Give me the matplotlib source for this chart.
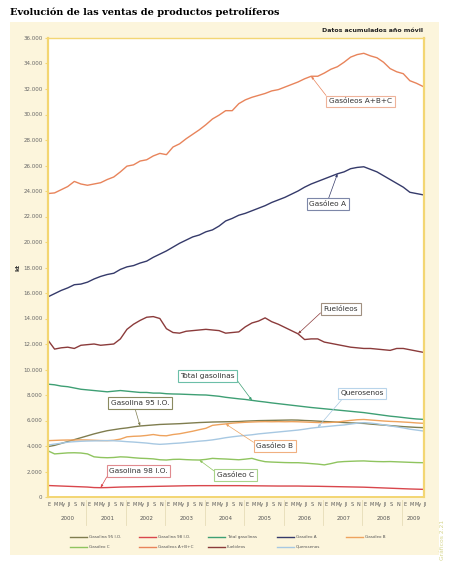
import numpy as np
import matplotlib.pyplot as plt
from matplotlib.lines import Line2D
from matplotlib.patches import Rectangle
from matplotlib.ticker import FuncFormatter, MultipleLocator

# meses desde enero 2000 (0) hasta julio 2009 (114), un valor cada dos meses
meses = np.arange(0, 115, 2)

# kt, datos acumulados año móvil
gasoleos_abc = [23800, 23850, 24100, 24350, 24750, 24550,
                24450, 24550, 24650, 24900, 25100, 25500,
                25950, 26050, 26350, 26450, 26750, 26950,
                26850, 27450, 27700, 28100, 28450, 28800,
                29200, 29650, 29950, 30300, 30300, 30850,
                31150, 31350, 31500, 31650, 31850, 31950,
                32150, 32350, 32550, 32800, 33000, 33000,
                33250, 33550, 33750, 34100, 34500, 34700,
                34800, 34600, 34450, 34100, 33600, 33350,
                33200, 32650, 32450, 32200]
gasoleo_a = [15700, 15950, 16200, 16400, 16650, 16700,
             16850, 17100, 17300, 17450, 17550, 17850,
             18050, 18150, 18350, 18500, 18800, 19050,
             19300, 19600, 19900, 20150, 20400, 20550,
             20800, 20950, 21250, 21650, 21850, 22100,
             22250, 22450, 22650, 22850, 23100, 23300,
             23500, 23750, 24000, 24300, 24550, 24750,
             24950, 25150, 25350, 25500, 25750, 25850,
             25900, 25700, 25500, 25200, 24900, 24600,
             24300, 23900, 23800, 23700]
fueloleos = [12300, 11600, 11700, 11750, 11650, 11900,
             11950, 12000, 11900, 11950, 12000, 12400,
             13150, 13550, 13850, 14100, 14150, 14000,
             13200, 12900, 12850, 13000, 13050, 13100,
             13150, 13100, 13050, 12850, 12900, 12950,
             13350, 13650, 13800, 14050, 13750, 13550,
             13300, 13050, 12800, 12350, 12400, 12400,
             12150, 12050, 11950, 11850, 11750, 11700,
             11650, 11650, 11600, 11550, 11500, 11650,
             11650, 11550, 11450, 11350]
total_gasolinas = [8850, 8800, 8700, 8650, 8550, 8450,
                   8400, 8350, 8300, 8250, 8300, 8350,
                   8300, 8250, 8200, 8200, 8150, 8150,
                   8100, 8080, 8070, 8050, 8030, 8010,
                   8000, 7950, 7900, 7820, 7760, 7700,
                   7650, 7580, 7510, 7450, 7380, 7320,
                   7260, 7200, 7140, 7080, 7020, 6970,
                   6920, 6870, 6820, 6770, 6720, 6670,
                   6620, 6550, 6480, 6410, 6340, 6290,
                   6230, 6170, 6120, 6090]
gasolina_95 = [3950, 4050, 4200, 4350, 4500, 4650,
               4800, 4950, 5080, 5200, 5280, 5360,
               5420, 5500, 5570, 5610, 5650, 5690,
               5710, 5730, 5750, 5780, 5810, 5840,
               5860, 5880, 5890, 5900, 5910, 5920,
               5950, 5970, 5990, 6000, 6010, 6020,
               6030, 6040, 6030, 6000, 5980, 5950,
               5920, 5900, 5870, 5840, 5810, 5790,
               5770, 5720, 5680, 5640, 5600, 5560,
               5520, 5490, 5460, 5440]
gasoleo_b = [4420, 4440, 4460, 4470, 4470, 4480,
             4470, 4450, 4430, 4420, 4450, 4540,
             4720, 4760, 4780, 4830, 4900, 4820,
             4800, 4900, 4960, 5060, 5160, 5280,
             5390, 5620, 5680, 5730, 5790, 5830,
             5860, 5880, 5900, 5910, 5900, 5910,
             5900, 5910, 5900, 5880, 5860, 5840,
             5830, 5850, 5880, 5950, 6010, 6060,
             6080, 6040, 6000, 5960, 5930, 5910,
             5880, 5850, 5810, 5780]
querosenos = [4080, 4150, 4220, 4300, 4340, 4370,
              4390, 4400, 4410, 4420, 4410, 4380,
              4340, 4310, 4270, 4230, 4170, 4130,
              4160, 4200, 4230, 4280, 4330, 4380,
              4420, 4480, 4560, 4650, 4720, 4780,
              4830, 4880, 4950, 5000, 5050, 5100,
              5150, 5200, 5250, 5320, 5400, 5460,
              5510, 5560, 5610, 5650, 5720, 5790,
              5830, 5800, 5740, 5660, 5580, 5500,
              5420, 5320, 5250, 5180]
gasoleo_c = [3620, 3380, 3420, 3460, 3470, 3450,
             3380, 3150, 3100, 3080, 3100, 3150,
             3130, 3080, 3040, 3020, 2990, 2920,
             2900, 2950, 2960, 2930, 2910, 2900,
             2950, 3030, 3000, 2980, 2950, 2920,
             2970, 3030, 2880, 2770, 2740, 2720,
             2700, 2690, 2690, 2660, 2620, 2580,
             2520, 2620, 2740, 2780, 2800, 2820,
             2830, 2800, 2780, 2770, 2780, 2760,
             2740, 2720, 2700, 2690]
gasolina_98 = [900, 880, 860, 840, 820, 800,
               780, 740, 730, 740, 760, 780,
               790, 800, 810, 820, 830, 840,
               850, 860, 870, 880, 885, 890,
               890, 890, 890, 890, 890, 890,
               885, 880, 875, 870, 865, 860,
               860, 860, 860, 850, 845, 840,
               830, 820, 810, 800, 790, 780,
               770, 750, 730, 710, 690, 670,
               650, 630, 615, 600]

# orden de la leyenda (dos filas)
nombres = ["Gasolina 95 I.O.", "Gasolina 98 I.O.", "Total gasolinas", "Gasóleo A",
           "Gasóleo B", "Gasóleo C", "Gasóleos A+B+C", "Fuelóleos", "Querosenos"]
series = [gasolina_95, gasolina_98, total_gasolinas, gasoleo_a,
          gasoleo_b, gasoleo_c, gasoleos_abc, fueloleos, querosenos]
colores = ["#7f7d4f", "#d9474c", "#3e9f74", "#353a6a",
           "#eea35e", "#8fc45f", "#e8845b", "#8b3b3b", "#a7c8e2"]
bordes = ["#8a8a60", "#e08a8f", "#6cbfa8", "#7d87a8",
          "#f0b080", "#a8d48a", "#eeb39a", "#a09080", "#b8d4ea"]

# etiquetas: serie, índice del punto señalado, posición del texto (mes, kt)
etiq_serie = [6, 3, 7, 2, 8, 0, 4, 5, 1]
etiq_punto = [40, 44, 38, 31, 41, 14, 27, 23, 8]
etiq_texto = [(95, 31050), (85, 22980), (89, 14750), (48.5, 9490), (95.5, 8150),
              (28, 7370), (69, 4000), (57, 1730), (27.5, 2040)]
etiq_rel = [(0.0, 0.8), (0.5, 1.0), (0.0, 0.3), (1.0, 0.3), (0.1, 0.0),
            (0.4, 0.0), (0.0, 0.8), (0.0, 0.8), (0.0, 0.2)]

anios = list(range(2000, 2010))
letras_mes = ["E", "M", "My", "Jl", "S", "N"]

AMARILLO = "#f3d673"
CREMA = "#fcf5dc"
GRIS = "#555555"
NARROW = ["Liberation Sans Narrow", "DejaVu Sans"]

fig = plt.figure(figsize=(4.5, 5.62), dpi=100)
fig.patch.set_facecolor("white")
fig.add_artist(Rectangle((10 / 450, 7 / 562), 429 / 450, 533 / 562,
                         transform=fig.transFigure, facecolor=CREMA,
                         edgecolor="none", zorder=-10))

fig.text(10 / 450, 1 - 12 / 562, "Evolución de las ventas de productos petrolíferos",
         family="DejaVu Serif", weight="bold", fontsize=7.0, va="center", ha="left")
fig.text(423 / 450, 1 - 31 / 562, "Datos acumulados año móvil",
         weight="bold", fontsize=4.5, va="center", ha="right", color="#222222")

ax = fig.add_axes([48 / 450, 65 / 562, 376 / 450, 459 / 562])
ax.set_facecolor("white")

for vals, col in zip(series, colores):
    ax.plot(meses, vals, color=col, lw=1.0, solid_joinstyle="round")

ax.set_xlim(0, 114.3)
ax.set_ylim(0, 36000)
ax.yaxis.set_major_locator(MultipleLocator(2000))
ax.yaxis.set_major_formatter(FuncFormatter(lambda v, p: f"{int(v):,}".replace(",", ".")))
ax.set_xticks([])
ax.tick_params(axis="y", length=2, width=0.8, color=AMARILLO, pad=2,
               labelsize=4.0, labelcolor="#666666")
for lab in ax.get_yticklabels():
    lab.set_family(NARROW)
for lado, ancho in [("left", 1.6), ("right", 1.6), ("bottom", 1.4), ("top", 1.0)]:
    ax.spines[lado].set_color(AMARILLO)
    ax.spines[lado].set_linewidth(ancho)
ax.set_ylabel("kt", fontsize=4.5, weight="bold", color="#333333")
ax.yaxis.set_label_coords(-0.072, 0.5)

# eje temporal: meses y años
trans = ax.get_xaxis_transform()
for i, anio in enumerate(anios):
    n = 6 if anio < 2009 else 4
    for j in range(n):
        ax.text(12 * i + 2 * j + 0.4, -0.017, letras_mes[j], transform=trans,
                ha="center", va="center", fontsize=3.5, color=GRIS, family=NARROW)
    fin = min(12 * i + 12, 114.3)
    ax.text((12 * i + fin) / 2, -0.046, str(anio), transform=trans,
            ha="center", va="center", fontsize=4.0, color=GRIS, family=NARROW)
    if i > 0:
        ax.plot([12 * i - 0.4] * 2, [-0.006, -0.062], transform=trans,
                color="#e6dcb8", lw=0.6, clip_on=False)

# etiquetas con flecha
for s, k, pos, rel in zip(etiq_serie, etiq_punto, etiq_texto, etiq_rel):
    ax.annotate(nombres[s], xy=(meses[k], series[s][k]), xytext=pos,
                ha="center", va="center", fontsize=5.3, color="#333333",
                bbox=dict(boxstyle="square,pad=0.35", fc="white",
                          ec=bordes[s], lw=0.8),
                arrowprops=dict(arrowstyle="-|>,head_length=0.3,head_width=0.12",
                                color=colores[s], lw=0.5, relpos=rel,
                                shrinkA=0, shrinkB=0))

# leyenda inferior
for i, (nom, col) in enumerate(zip(nombres, colores)):
    fila, colu = divmod(i, 5)
    x0 = (70 + 69 * colu) / 450
    y0 = 1 - (537 + 10 * fila) / 562
    fig.add_artist(Line2D([x0, x0 + 17 / 450], [y0, y0], color=col, lw=1.0,
                          transform=fig.transFigure))
    fig.text(x0 + 19 / 450, y0, nom, fontsize=3.0, color=GRIS, va="center",
             ha="left", family=NARROW)

fig.text(443 / 450, 1 - 540 / 562, "Gráficos 2.21", rotation=90, fontsize=4.3,
         color="#d6d68e", ha="center", va="center")

fig.savefig("out.png", dpi=100)
